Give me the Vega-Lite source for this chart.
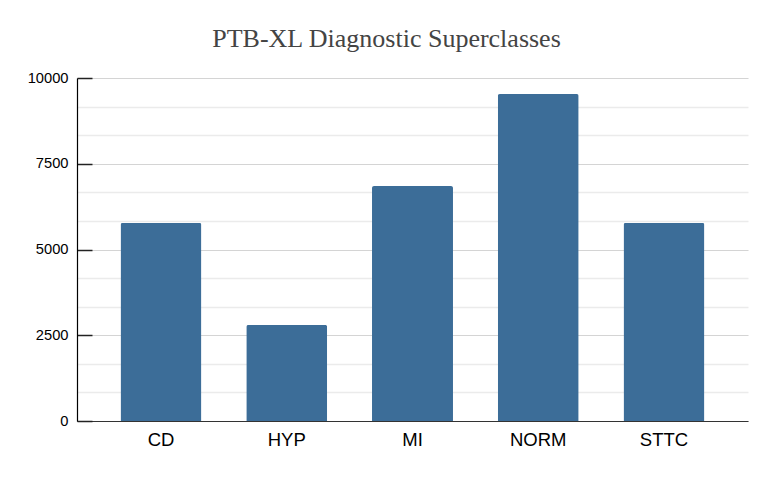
{
  "$schema": "https://vega.github.io/schema/vega-lite/v6.json",
  "autosize": {"type": "none"},
  "padding": {"left": 77, "top": 78, "right": 24, "bottom": 57},
  "width": 671,
  "height": 343,
  "background": "white",
  "title": {
    "text": "PTB-XL Diagnostic Superclasses",
    "font": "Liberation Serif",
    "fontSize": 26,
    "fontWeight": "normal",
    "color": "#444444",
    "anchor": "middle",
    "dx": -26,
    "offset": 18
  },
  "config": {
    "view": {"stroke": null},
    "axis": {"labelFont": "Liberation Sans", "labelColor": "#000000"}
  },
  "data": {
    "values": [
      {"superclass": "CD", "count": 5775},
      {"superclass": "HYP", "count": 2800},
      {"superclass": "MI", "count": 6850},
      {"superclass": "NORM", "count": 9530},
      {"superclass": "STTC", "count": 5775}
    ]
  },
  "encoding": {
    "x": {"field": "superclass", "type": "nominal", "title": null,
          "scale": {"paddingInner": 0.356, "paddingOuter": 0.346},
          "axis": {"labelAngle": 0, "labelFontSize": 18.5, "ticks": false, "labelPadding": 9,
                   "domainColor": "#333333", "domainWidth": 1.2}}
  },
  "layer": [
    {
      "mark": {"type": "bar", "opacity": 0},
      "encoding": {
        "y": {
          "field": "count", "type": "quantitative",
          "scale": {"domain": [0, 10000], "nice": false},
          "axis": {
            "orient": "right", "title": null, "labels": false, "ticks": false, "domain": false,
            "grid": true, "gridColor": "#ebebeb", "gridWidth": 1.5,
            "values": [833.33, 1666.67, 3333.33, 4166.67, 5833.33, 6666.67, 8333.33, 9166.67]
          }
        }
      }
    },
    {
      "mark": {"type": "bar", "color": "#3c6d98", "cornerRadiusTopLeft": 2, "cornerRadiusTopRight": 2},
      "encoding": {
        "y": {
          "field": "count", "type": "quantitative",
          "scale": {"domain": [0, 10000], "nice": false},
          "axis": {
            "orient": "left", "title": null, "values": [0, 2500, 5000, 7500, 10000],
            "format": "d", "labelFontSize": 14.7, "labelPadding": 24,
            "tickSize": -15, "tickColor": "#222222", "tickWidth": 1.5,
            "domainColor": "#000000", "domainWidth": 1.2,
            "grid": true, "gridColor": "#d4d4d4", "gridWidth": 1.2
          }
        }
      }
    }
  ],
  "resolve": {"axis": {"y": "independent"}}
}
